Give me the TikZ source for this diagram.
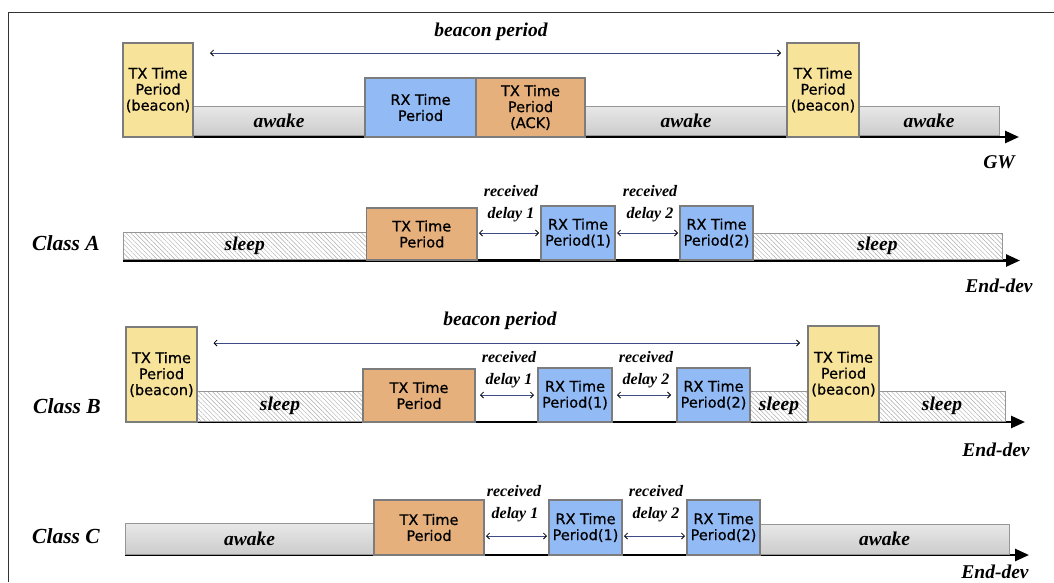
\documentclass[tikz,border=0pt]{standalone}
\usepackage{fontspec}
\setmainfont{Liberation Serif}
\newfontfamily\boxfont[FakeBold=0.7]{DejaVu Sans}
\usetikzlibrary{arrows.meta,patterns.meta}
\definecolor{txy}{HTML}{F8E39B}
\definecolor{rxb}{HTML}{92BAF4}
\definecolor{txo}{HTML}{E5B07C}
\definecolor{bord}{HTML}{7C7C7C}
\definecolor{arrc}{HTML}{3C4A86}
\newcommand\lblfont{\bfseries\itshape\fontsize{19.5}{22}\selectfont}
\newcommand\dlyfont{\bfseries\itshape\fontsize{16}{18}\selectfont}
\newcommand\clsfont{\bfseries\itshape\fontsize{21.5}{24}\selectfont}
\tikzset{
  box/.style={draw=bord, line width=1.4pt, inner sep=0pt, outer sep=0pt, align=center,
    font=\boxfont\fontsize{14.5}{16}\selectfont, anchor=north west},
  beaconbox/.style={box, fill=txy},
  rxbox/.style={box, fill=rxb},
  txbox/.style={box, fill=txo},
  awakebar/.style={draw=bord!80, line width=1pt, inner sep=0pt, outer sep=0pt, anchor=north west,
    top color=black!9, middle color=white!96!black, bottom color=black!20, font=\lblfont},
  sleepbar/.style={draw=bord!80, line width=1pt, inner sep=0pt, outer sep=0pt, anchor=north west,
    preaction={fill=white}, pattern={Lines[angle=135,distance=3.2pt,line width=0.45pt]},
    pattern color=black!32, font=\lblfont},
  axisline/.style={line width=2.6pt, -{Triangle[length=14pt,width=12pt]}},
  periodarr/.style={draw=arrc, line width=0.8pt,
    {Straight Barb[length=3pt,width=6pt,color=black]}-{Straight Barb[length=3pt,width=6pt,color=black]}},
  lbl/.style={font=\lblfont, inner sep=0pt},
  dly/.style={font=\dlyfont, inner sep=0pt},
  cls/.style={font=\clsfont, inner sep=0pt},
}
\begin{document}
\begin{tikzpicture}[x=1pt,y=-1pt]
\useasboundingbox (0,0) rectangle (1054,582);
\fill[white] (0,0) rectangle (1054,582);
\draw[line width=1pt, black!80] (8,582) -- (8,12) -- (1054,12);

% ---------------- GW ----------------
\coordinate (gwa0) at (123,137);
\coordinate (gwa1) at (1019,137);
\draw[axisline] (gwa0) -- (gwa1);
\node[awakebar, minimum width=172pt, minimum height=29pt] (gwaw1) at (193,106) {awake};
\node[awakebar, minimum width=202pt, minimum height=29pt] (gwaw2) at (585,106) {awake};
\node[awakebar, minimum width=140pt, minimum height=29pt] (gwaw3) at (859,106) {awake};
\node[beaconbox, minimum width=70pt, minimum height=94pt] (gwtx1) at (123,43) {TX Time\\Period\\(beacon)};
\node[rxbox, minimum width=111pt, minimum height=59pt] (gwrx) at (365,78) {RX Time\\Period};
\node[txbox, minimum width=109pt, minimum height=59pt] (gwack) at (476,78) {TX Time\\Period\\(ACK)};
\node[beaconbox, minimum width=72pt, minimum height=94pt] (gwtx2) at (787,43) {TX Time\\Period\\(beacon)};
\draw[periodarr, shorten <=17pt, shorten >=6pt] (gwtx1.east |- 0,53) -- (gwtx2.west |- 0,53);
\node[lbl] (gwbp) at (491,32) {beacon period};
\node[lbl] (gwl) at (999,162) {GW};

% ---------------- Class A ----------------
\coordinate (aa0) at (123,260.5);
\coordinate (aa1) at (1020,260.5);
\draw[axisline] (aa0) -- (aa1);
\node[sleepbar, minimum width=243.5pt, minimum height=27pt] (sA1) at (123,232) {sleep};
\node[sleepbar, minimum width=249pt, minimum height=26pt] (sA2) at (753,233) {sleep};
\node[txbox, minimum width=110.5pt, minimum height=52pt] (txA) at (366.5,208) {TX Time\\Period};
\node[rxbox, minimum width=74pt, minimum height=54pt] (rxA1) at (541,206) {RX Time\\Period(1)};
\node[rxbox, minimum width=73pt, minimum height=54pt] (rxA2) at (680,206) {RX Time\\Period(2)};
\draw[periodarr, shorten <=2pt, shorten >=2pt] (txA.east |- 0,233) -- (rxA1.west |- 0,233);
\draw[periodarr, shorten <=2pt, shorten >=2pt] (rxA1.east |- 0,233) -- (rxA2.west |- 0,233);
\node[cls] (clA) at (66,243) {Class A};
\node[dly] (rA1) at (511,191) {received};
\node[dly] (dA1) at (511,215) {delay 1};
\node[dly] (rA2) at (650,191) {received};
\node[dly] (dA2) at (650,215) {delay 2};
\node[lbl] (edA) at (999,286) {End-dev};

% ---------------- Class B ----------------
\coordinate (ba0) at (126,422);
\coordinate (ba1) at (1025,422);
\draw[axisline] (ba0) -- (ba1);
\node[sleepbar, minimum width=166pt, minimum height=30pt] (sB1) at (197,391) {sleep};
\node[sleepbar, minimum width=58pt, minimum height=30pt] (sB2) at (750,391) {sleep};
\node[sleepbar, minimum width=126pt, minimum height=30pt] (sB3) at (879,391) {sleep};
\node[beaconbox, minimum width=71pt, minimum height=95pt] (bB1) at (126,327) {TX Time\\Period\\(beacon)};
\node[txbox, minimum width=112pt, minimum height=53pt] (txB) at (363,369) {TX Time\\Period};
\node[rxbox, minimum width=74pt, minimum height=54pt] (rxB1) at (538,368) {RX Time\\Period(1)};
\node[rxbox, minimum width=73pt, minimum height=54pt] (rxB2) at (677,368) {RX Time\\Period(2)};
\node[beaconbox, minimum width=71pt, minimum height=96pt] (bB2) at (808,326) {TX Time\\Period\\(beacon)};
\draw[periodarr, shorten <=16.5pt, shorten >=8pt] (bB1.east |- 0,343) -- (bB2.west |- 0,343);
\draw[periodarr, shorten <=5pt, shorten >=4pt] (txB.east |- 0,395) -- (rxB1.west |- 0,395);
\draw[periodarr, shorten <=5pt, shorten >=6pt] (rxB1.east |- 0,395) -- (rxB2.west |- 0,395);
\node[lbl] (bpB) at (500,321) {beacon period};
\node[cls] (clB) at (67,406) {Class B};
\node[dly] (rB1) at (509,357) {received};
\node[dly] (dB1) at (509,381) {delay 1};
\node[dly] (rB2) at (646,357) {received};
\node[dly] (dB2) at (646,381) {delay 2};
\node[lbl] (edB) at (996,450) {End-dev};

% ---------------- Class C ----------------
\coordinate (ca0) at (125,555);
\coordinate (ca1) at (1029,555);
\draw[axisline] (ca0) -- (ca1);
\node[awakebar, minimum width=249pt, minimum height=31pt] (aC1) at (125,523) {awake};
\node[awakebar, minimum width=249pt, minimum height=30pt] (aC2) at (760,524) {awake};
\node[txbox, minimum width=110pt, minimum height=55pt] (txC) at (374,500) {TX Time\\Period};
\node[rxbox, minimum width=73pt, minimum height=55pt] (rxC1) at (549,500) {RX Time\\Period(1)};
\node[rxbox, minimum width=73pt, minimum height=55pt] (rxC2) at (687,500) {RX Time\\Period(2)};
\draw[periodarr, shorten <=2pt, shorten >=2pt] (txC.east |- 0,536) -- (rxC1.west |- 0,536);
\draw[periodarr, shorten <=2pt, shorten >=2pt] (rxC1.east |- 0,536) -- (rxC2.west |- 0,536);
\node[cls] (clC) at (66,536) {Class C};
\node[dly] (rC1) at (514,491) {received};
\node[dly] (dC1) at (515,515) {delay 1};
\node[dly] (rC2) at (656,491) {received};
\node[dly] (dC2) at (656,515) {delay 2};
\node[lbl] (edC) at (995,572) {End-dev};
\end{tikzpicture}
\end{document}
